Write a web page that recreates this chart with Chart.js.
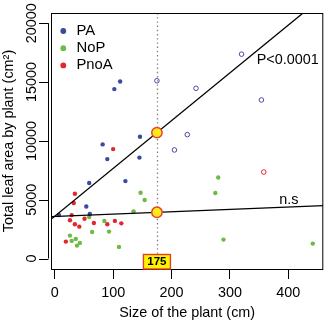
<!DOCTYPE html>
<html>
<head>
<meta charset="utf-8">
<script src="https://cdn.jsdelivr.net/npm/chart.js@4"></script>
<style>
  html, body { margin: 0; padding: 0; background: #ffffff; }
  #wrap { width: 330px; height: 325px; }
</style>
</head>
<body>
<div id="wrap"><canvas id="c" width="330" height="325"></canvas></div>
<script>
// ---- data ----------------------------------------------------------------
const groupNames  = ['PA', 'NoP', 'PnoA'];
const groupColors = ['#3b4a9c', '#6dbb45', '#e3262c'];

// PA (filled)
const paX = [102, 112, 82, 146, 90, 145, 59, 121, 54, 60, 7];
const paY = [14400, 15050, 9700, 10350, 8450, 8580, 6420, 6580, 4420, 3780, 3700];
// PA (open circles)
const paOpenX = [175, 227, 205, 320, 242, 354];
const paOpenY = [15110, 10530, 9230, 17370, 14470, 13480];

// NoP
const nopX = [147, 154, 135, 59, 85, 64, 93, 26, 36, 29, 43, 38, 110, 280, 275, 289, 442];
const nopY = [5590, 4970, 4010, 3530, 3190, 2260, 2290, 1950, 1670, 1500, 1330, 1100, 990, 6890, 5570, 1610, 1270];

// PnoA (filled)
const pnoaX = [100, 34.5, 32.5, 29, 26, 51, 34.5, 67, 42, 103, 90, 114, 19];
const pnoaY = [9300, 5500, 4720, 3690, 3260, 3380, 2910, 3020, 2710, 3200, 2910, 2990, 1440];
// PnoA (open circle)
const pnoaOpenX = [358];
const pnoaOpenY = [7350];

// fitted lines: intercept and slope (upper = P<0.0001, lower = n.s)
const fitIntercept = [3600, 3580];
const fitSlope     = [40.6, 2.0];

// reference size marked on the plot
const markX = 175;
const markLabel = '175';

// line annotations
const noteText = ['P<0.0001', 'n.s'];
const noteX = [399, 401];
const noteY = [16500, 4600];

// axes
const xMin = -6.45, xMax = 460;
const yMin = -890,  yMax = 20870;
const xTicks = [0, 100, 200, 300, 400];
const xTickLabels = ['0', '100', '200', '300', '400'];
const yTicks = [0, 5000, 10000, 15000, 20000];
const yTickLabels = ['0', '5000', '10000', '15000', '20000'];

// ---- helpers --------------------------------------------------------------
const FONT = "'Liberation Sans', Arial, Helvetica, sans-serif";
const zip = (xs, ys) => xs.map((x, i) => ({ x: x, y: ys[i] }));
const fitLine = k => [xMin, xMax].map(x => ({ x: x, y: fitIntercept[k] + fitSlope[k] * x }));
const markPoints = [0, 1].map(k => ({ x: markX, y: fitIntercept[k] + fitSlope[k] * markX }));

function filled(label, pts, color) {
  return { label, data: pts, backgroundColor: color, borderWidth: 0,
           pointRadius: 2.2, pointHoverRadius: 2.2, order: 3 };
}
function hollow(label, pts, color) {
  return { label, data: pts, backgroundColor: 'rgba(255,255,255,0)', borderColor: color,
           borderWidth: 1, pointRadius: 2.3, pointHoverRadius: 2.3, order: 3 };
}

// ---- decorations drawn around the plot ------------------------------------
const decor = {
  id: 'decor',
  beforeDatasetsDraw(chart) {
    const { ctx, chartArea: a, scales: { x } } = chart;
    const px = Math.round(x.getPixelForValue(markX)) + 0.5;
    ctx.save();
    ctx.strokeStyle = '#808080';
    ctx.lineWidth = 1.3;
    ctx.setLineDash([1.4, 2.8]);
    ctx.beginPath();
    ctx.moveTo(px, a.top);
    ctx.lineTo(px, a.bottom);
    ctx.stroke();
    ctx.restore();
  },
  afterDraw(chart) {
    const { ctx, chartArea: a, scales: { x, y } } = chart;
    ctx.save();

    // frame
    ctx.strokeStyle = '#000';
    ctx.lineWidth = 1;
    ctx.strokeRect(a.left + 0.5, a.top + 0.5, a.right - a.left - 1, a.bottom - a.top);

    // left axis: line, ticks, rotated labels
    const ax = a.left - 2.5;
    const y0 = y.getPixelForValue(yTicks[0]);
    const y1 = y.getPixelForValue(yTicks[yTicks.length - 1]);
    ctx.beginPath();
    ctx.moveTo(ax, y0);
    ctx.lineTo(ax, y1);
    yTicks.forEach(v => {
      const py = Math.round(y.getPixelForValue(v)) + 0.5;
      ctx.moveTo(ax, py);
      ctx.lineTo(ax - 9.5, py);
    });
    ctx.stroke();
    ctx.fillStyle = '#000';
    ctx.font = '14.4px ' + FONT;
    ctx.textAlign = 'center';
    ctx.textBaseline = 'alphabetic';
    yTicks.forEach((v, i) => {
      ctx.save();
      ctx.translate(36, y.getPixelForValue(v));
      ctx.rotate(-Math.PI / 2);
      ctx.fillText(yTickLabels[i], 0, 0);
      ctx.restore();
    });

    // legend
    ctx.font = '14.8px ' + FONT;
    groupNames.forEach((name, i) => {
      const ly = 31 + i * 17.2;
      ctx.fillStyle = groupColors[i];
      ctx.beginPath();
      ctx.arc(63.3, ly, 2.9, 0, Math.PI * 2);
      ctx.fill();
      ctx.fillStyle = '#000';
      ctx.textAlign = 'left';
      ctx.textBaseline = 'middle';
      ctx.fillText(name, 76.5, ly);
    });

    // line annotations
    ctx.font = '14.4px ' + FONT;
    ctx.textAlign = 'center';
    ctx.textBaseline = 'alphabetic';
    noteText.forEach((t, i) => {
      ctx.fillText(t, x.getPixelForValue(noteX[i]), y.getPixelForValue(noteY[i]));
    });

    // size tag on the x axis
    const cx = x.getPixelForValue(markX);
    const bw = 27, bh = 14.5;
    ctx.fillStyle = '#fff200';
    ctx.fillRect(cx - bw / 2, a.bottom - bh, bw, bh);
    ctx.strokeStyle = '#e2402b';
    ctx.lineWidth = 1.4;
    ctx.strokeRect(cx - bw / 2, a.bottom - bh, bw, bh);
    ctx.fillStyle = '#000';
    ctx.font = 'bold 11.5px ' + FONT;
    ctx.textAlign = 'center';
    ctx.textBaseline = 'middle';
    ctx.fillText(markLabel, cx, a.bottom - bh / 2 + 0.5);

    ctx.restore();
  }
};

// ---- chart ---------------------------------------------------------------
new Chart(document.getElementById('c'), {
  type: 'scatter',
  data: {
    datasets: [
      { label: 'marks', data: markPoints, backgroundColor: '#ffe81c', borderColor: '#e2452b',
        borderWidth: 1.5, pointRadius: 5.2, pointHoverRadius: 5.2, order: 0 },
      { label: 'fit P<0.0001', type: 'line', data: fitLine(0), borderColor: '#000', borderWidth: 1.3,
        pointRadius: 0, fill: false, tension: 0, clip: 0, order: 1 },
      { label: 'fit n.s', type: 'line', data: fitLine(1), borderColor: '#000', borderWidth: 1.3,
        pointRadius: 0, fill: false, tension: 0, clip: 0, order: 1 },
      filled(groupNames[0], zip(paX, paY), groupColors[0]),
      hollow(groupNames[0] + ' (open)', zip(paOpenX, paOpenY), '#4a4aa6'),
      filled(groupNames[1], zip(nopX, nopY), groupColors[1]),
      filled(groupNames[2], zip(pnoaX, pnoaY), groupColors[2]),
      hollow(groupNames[2] + ' (open)', zip(pnoaOpenX, pnoaOpenY), groupColors[2])
    ]
  },
  options: {
    responsive: false,
    animation: false,
    devicePixelRatio: 1,
    layout: { padding: { top: 13, right: 4, left: 0, bottom: 0 } },
    plugins: { legend: { display: false }, tooltip: { enabled: false } },
    scales: {
      x: {
        type: 'linear', min: xMin, max: xMax,
        afterBuildTicks: s => { s.ticks = xTicks.map(v => ({ value: v })); },
        afterFit: s => { s.height = 56; },
        grid: { display: true, drawOnChartArea: false, drawTicks: true, tickLength: 10,
                color: '#000', lineWidth: 1 },
        border: { display: false },
        ticks: { color: '#000', font: { family: FONT, size: 14.4 }, padding: 5,
                 maxRotation: 0, autoSkip: false,
                 callback: (v, i) => xTickLabels[i] },
        title: { display: true, text: 'Size of the plant (cm)', color: '#000',
                 font: { family: FONT, size: 14.4 }, padding: { top: 0, bottom: 3.4 } }
      },
      y: {
        type: 'linear', min: yMin, max: yMax,
        afterBuildTicks: s => { s.ticks = yTicks.map(v => ({ value: v })); },
        afterFit: s => { s.width = 51; },
        grid: { display: false },
        border: { display: false },
        ticks: { display: false },
        title: { display: true, text: 'Total leaf area by plant (cm²)', color: '#000',
                 font: { family: FONT, size: 14.4 }, padding: { top: 0, bottom: 0 } }
      }
    }
  },
  plugins: [decor]
});
</script>
</body>
</html>
